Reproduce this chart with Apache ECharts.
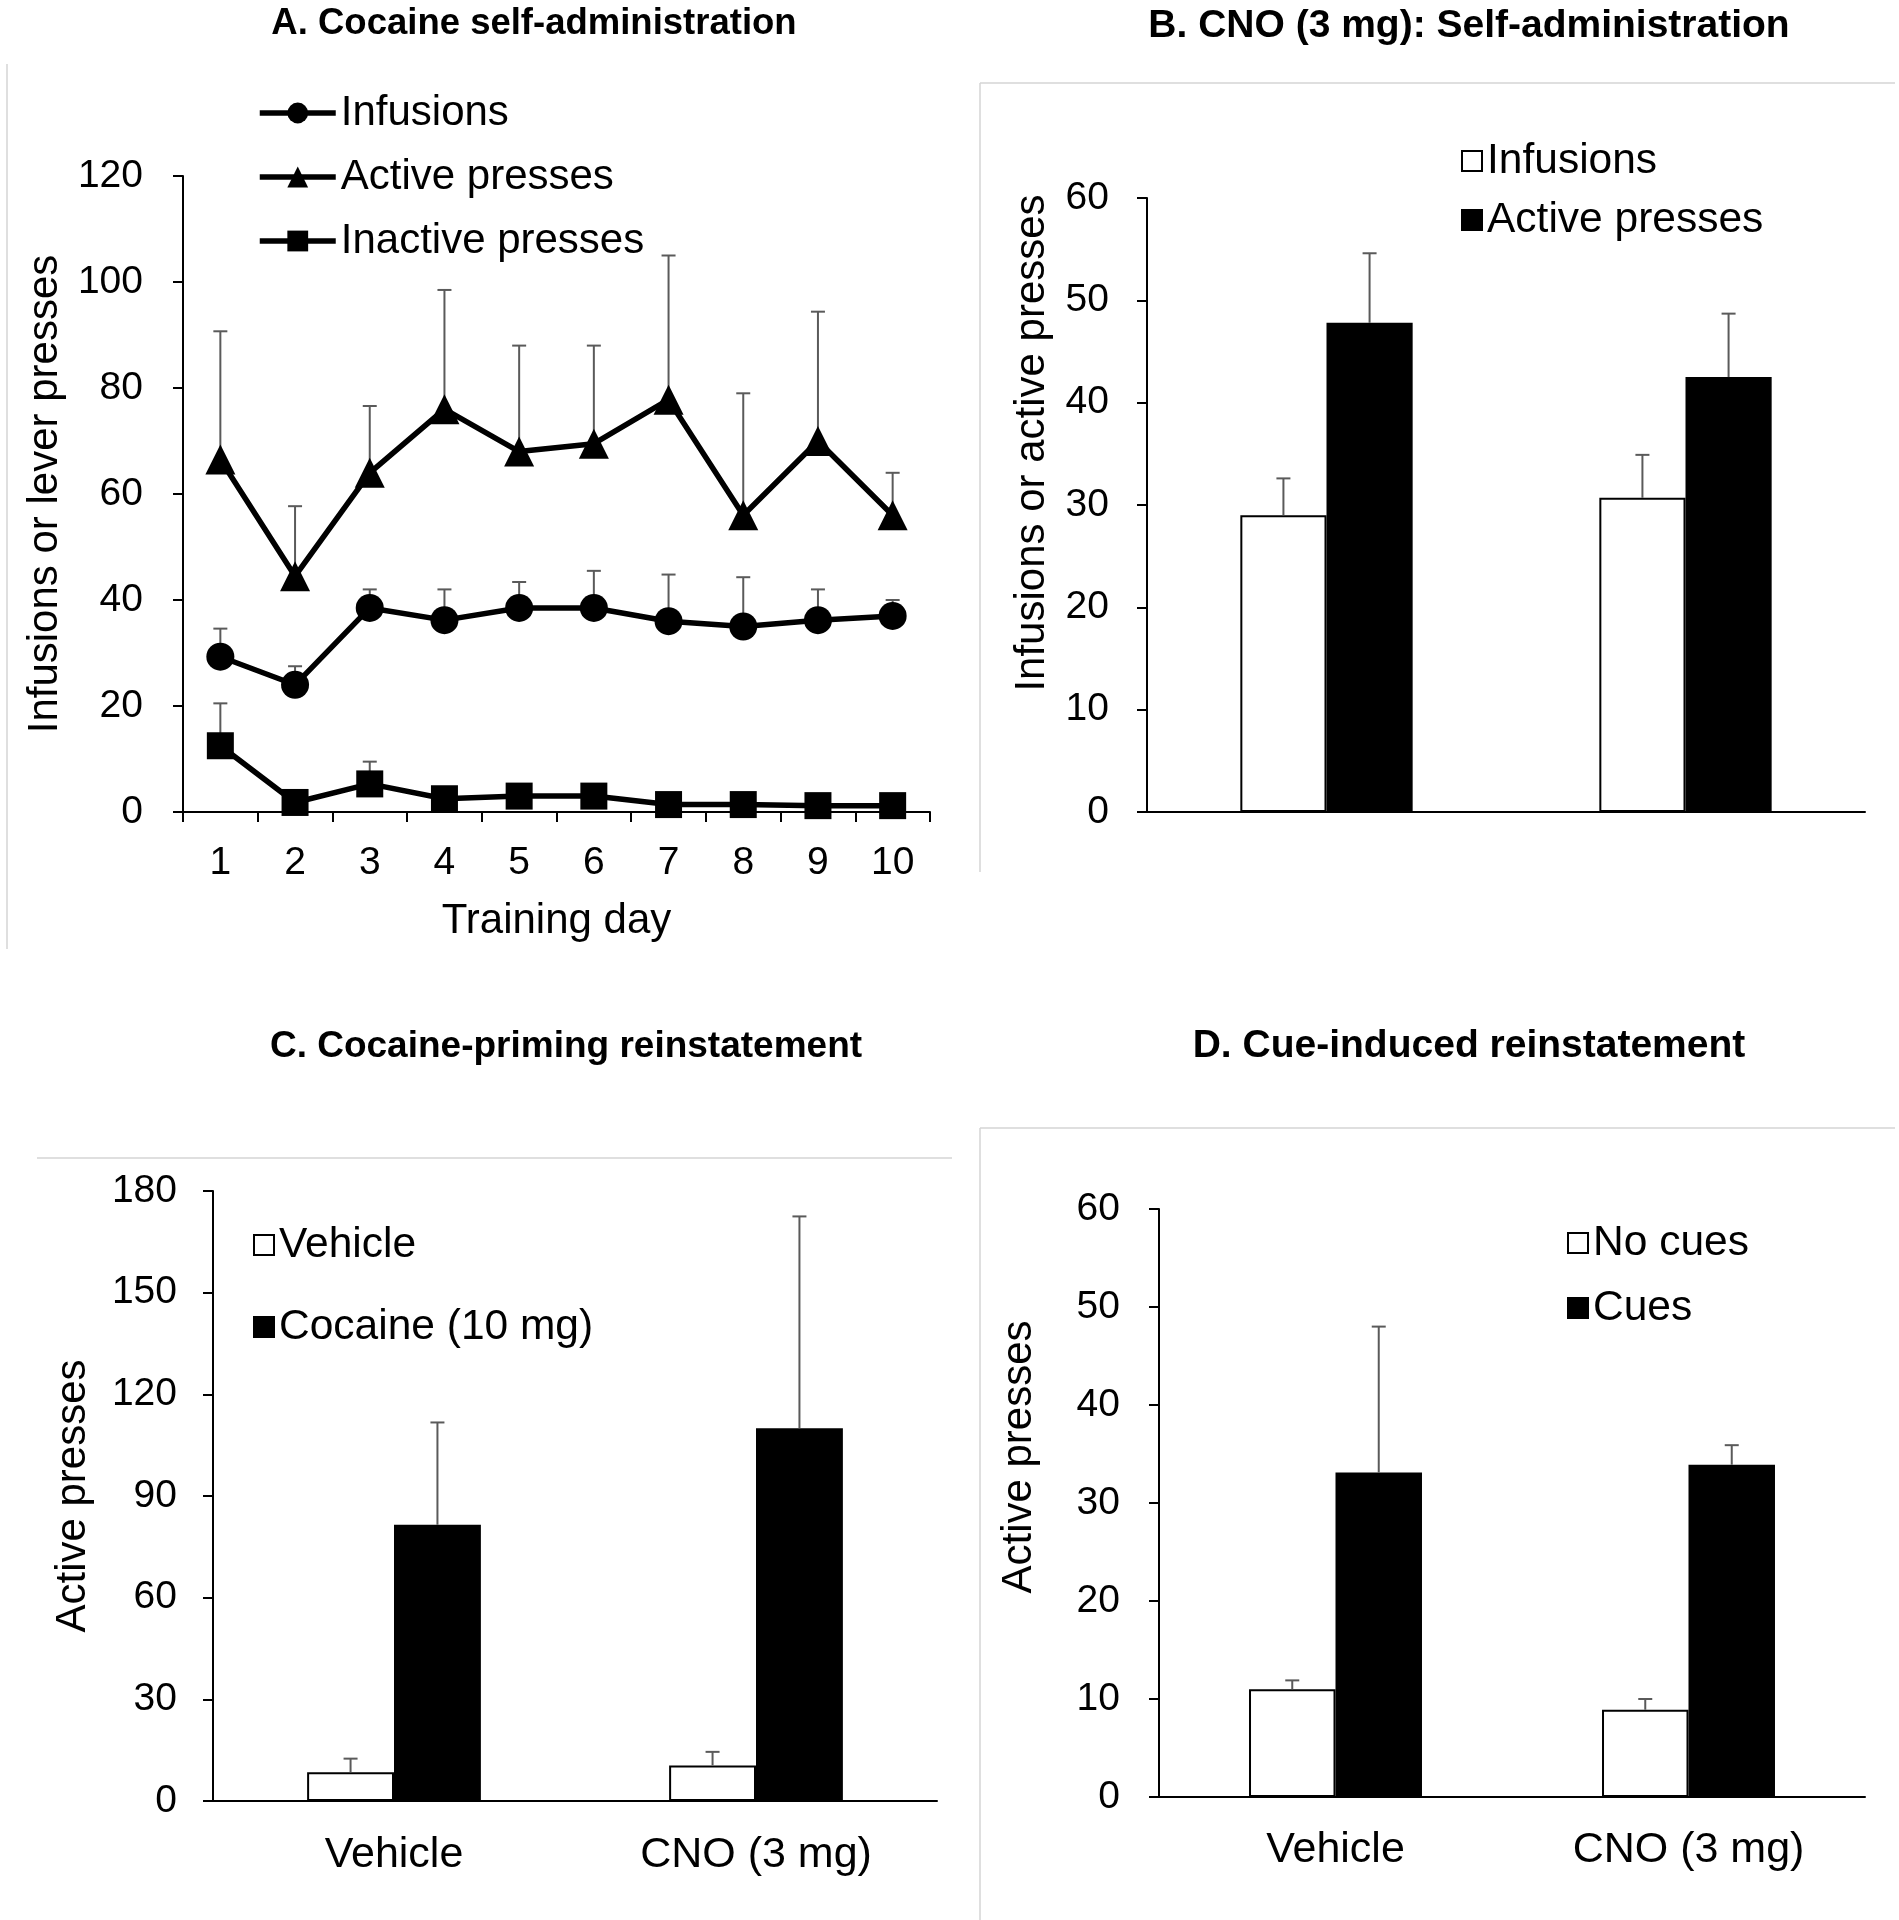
<!DOCTYPE html>
<html>
<head>
<meta charset="utf-8">
<script src="https://cdn.jsdelivr.net/npm/echarts@6/dist/echarts.min.js"></script>
<style>
  html, body { margin: 0; padding: 0; background: #fff; }
  #wrap { position: relative; width: 1899px; height: 1920px; }
  .panel { position: absolute; }
</style>
</head>
<body>
<div id="wrap">
  <div id="pA" class="panel" style="left:0;top:0;width:960px;height:980px"></div>
  <div id="pB" class="panel" style="left:960px;top:0;width:939px;height:980px"></div>
  <div id="pC" class="panel" style="left:0;top:980px;width:960px;height:940px"></div>
  <div id="pD" class="panel" style="left:960px;top:980px;width:939px;height:940px"></div>
</div>
<script>
// A. training days
const days = ["1", "2", "3", "4", "5", "6", "7", "8", "9", "10"];
const infusions = [29.3, 24, 38.5, 36.2, 38.5, 38.5, 36, 35, 36.2, 37];
const infusionsTop = [34.6, 27.5, 42, 42, 43.4, 45.5, 44.8, 44.3, 42, 40];
const activePresses = [66.5, 44.5, 64, 76, 68, 69.5, 77.8, 56, 70, 56];
const activePressesTop = [90.7, 57.7, 76.6, 98.5, 88, 88, 105, 79, 94.4, 64];
const inactivePresses = [12.5, 1.8, 5.3, 2.5, 3, 3, 1.4, 1.4, 1.2, 1.2];
const inactivePressesTop = [20.5, 1.8, 9.5, 2.5, 3, 3, 1.4, 1.4, 1.2, 1.2];

// B. CNO self-administration
const groups = ["Vehicle", "CNO (3 mg)"];
const bInfusions = [29, 30.7];
const bInfusionsTop = [32.6, 34.9];
const bActive = [47.8, 42.5];
const bActiveTop = [54.6, 48.7];

// C. cocaine-priming reinstatement
const cVehicle = [8.5, 10.5];
const cVehicleTop = [12.5, 14.5];
const cCocaine = [81.5, 110];
const cCocaineTop = [111.7, 172.5];

// D. cue-induced reinstatement
const dNoCues = [11, 8.9];
const dNoCuesTop = [11.9, 10];
const dCues = [33.1, 33.9];
const dCuesTop = [48, 35.9];

const FONT = "'Liberation Sans', Arial, sans-serif";
const ERR = "#5a5a5a";
const FRAME = "#d4d4d4";

// upper-only error bar, offset is a fraction of the category band
function errorBars(mean, top, offset, z) {
  return {
    type: "custom",
    name: "err",
    z: z,
    silent: true,
    data: mean.map((v, i) => [i, v, top[i]]),
    renderItem: function (params, api) {
      let i = api.value(0);
      let p0 = api.coord([i, api.value(1)]);
      let p1 = api.coord([i, api.value(2)]);
      let band = api.size([1, 0])[0];
      let x = p0[0] + offset * band;
      if (p0[1] - p1[1] < 1) {
        return null;
      }
      let st = { stroke: ERR, lineWidth: 2 };
      return {
        type: "group",
        children: [
          { type: "line", shape: { x1: x, y1: p0[1], x2: x, y2: p1[1] }, style: st },
          { type: "line", shape: { x1: x - 7, y1: p1[1], x2: x + 7, y2: p1[1] }, style: st }
        ]
      };
    }
  };
}

function frameLines(lines) {
  return lines.map(l => ({
    type: "line",
    silent: true,
    shape: { x1: l[0], y1: l[1], x2: l[2], y2: l[3] },
    style: { stroke: FRAME, lineWidth: 1.5 }
  }));
}

function yAxisOpt(max, interval, name, nameGap, pad, margin) {
  return {
    type: "value",
    min: 0,
    max: max,
    interval: interval,
    name: name,
    nameLocation: "middle",
    nameGap: nameGap,
    nameTextStyle: { fontFamily: FONT, fontSize: 42, color: "#000", padding: pad },
    axisLine: { show: true, lineStyle: { color: "#000", width: 2 } },
    axisTick: { show: true, length: 10, lineStyle: { color: "#000", width: 2 } },
    axisLabel: { fontFamily: FONT, fontSize: 39, color: "#000", margin: margin },
    splitLine: { show: false }
  };
}

function titleOpt(text, cx, top, size) {
  return {
    text: text,
    left: cx,
    top: top,
    textAlign: "center",
    padding: 0,
    textStyle: { fontFamily: FONT, fontSize: size, fontWeight: "bold", color: "#000" }
  };
}

function barLegend(names, left, top, gap) {
  return {
    data: names,
    orient: "vertical",
    left: left,
    top: top,
    padding: 0,
    itemGap: gap,
    itemWidth: 20,
    itemHeight: 20,
    icon: "rect",
    selectedMode: false,
    textStyle: { fontFamily: FONT, fontSize: 42.5, color: "#000", lineHeight: 44 }
  };
}

// panel A
let chartA = echarts.init(document.getElementById("pA"));
let lineStyle = { color: "#000", width: 5.5 };
chartA.setOption({
  animation: false,
  title: titleOpt("A. Cocaine self-administration", 534, 5, 36.5),
  legend: {
    data: ["Infusions", "Active presses", "Inactive presses"],
    orient: "vertical",
    left: 257,
    top: 91,
    padding: 0,
    itemGap: 20,
    itemWidth: 76,
    itemHeight: 26,
    selectedMode: false,
    lineStyle: { width: 5.5 },
    textStyle: { fontFamily: FONT, fontSize: 42, color: "#000", lineHeight: 44 }
  },
  grid: { left: 183, top: 176, width: 747, height: 636 },
  xAxis: {
    type: "category",
    data: days,
    name: "Training day",
    nameLocation: "middle",
    nameGap: 88,
    nameTextStyle: { fontFamily: FONT, fontSize: 42, color: "#000" },
    axisLine: { lineStyle: { color: "#000", width: 2 } },
    axisTick: { show: true, length: 10, lineStyle: { color: "#000", width: 2 } },
    axisLabel: { fontFamily: FONT, fontSize: 39, color: "#000", margin: 32 }
  },
  yAxis: yAxisOpt(120, 20, "Infusions or lever presses", 117, 0, 40),
  graphic: frameLines([[7, 64, 7, 949]]),
  series: [
    errorBars(activePresses, activePressesTop, 0, 1),
    errorBars(infusions, infusionsTop, 0, 1),
    errorBars(inactivePresses, inactivePressesTop, 0, 1),
    {
      name: "Infusions", type: "line", z: 3, data: infusions,
      symbol: "circle", symbolSize: 28, lineStyle: lineStyle,
      itemStyle: { color: "#000" }
    },
    {
      name: "Active presses", type: "line", z: 3, data: activePresses,
      symbol: "triangle", symbolSize: 30, lineStyle: lineStyle,
      itemStyle: { color: "#000" }
    },
    {
      name: "Inactive presses", type: "line", z: 3, data: inactivePresses,
      symbol: "rect", symbolSize: 27, lineStyle: lineStyle,
      itemStyle: { color: "#000" }
    }
  ]
});

// bar panels share one layout
function barPanel(el, o) {
  let chart = echarts.init(document.getElementById(el));
  chart.setOption({
    animation: false,
    title: titleOpt(o.title, o.titleX, o.titleTop, o.titleSize),
    legend: barLegend([o.names[0], o.names[1]], o.legendLeft, o.legendTop, o.legendGap),
    grid: o.grid,
    xAxis: {
      type: "category",
      data: groups,
      axisLine: { lineStyle: { color: "#000", width: 2 } },
      axisTick: { show: false },
      axisLabel: { show: o.showLabels, fontFamily: FONT, fontSize: 43, color: "#000", margin: o.labelMargin }
    },
    yAxis: yAxisOpt(o.max, o.interval, o.yName, o.nameGap, o.namePad, o.yMargin),
    graphic: frameLines(o.frame),
    series: [
      {
        name: o.names[0], type: "bar", data: o.white, barWidth: o.barWidth, barGap: "0%",
        itemStyle: { color: "#fff", borderColor: "#000", borderWidth: 2 }
      },
      {
        name: o.names[1], type: "bar", data: o.black, barWidth: o.barWidth, barGap: "0%",
        itemStyle: { color: "#000", borderColor: "#000", borderWidth: 2 }
      },
      errorBars(o.white, o.whiteTop, -o.off, 5),
      errorBars(o.black, o.blackTop, o.off, 5)
    ]
  });
  return chart;
}

barPanel("pB", {
  title: "B. CNO (3 mg): Self-administration", titleX: 509, titleTop: 7, titleSize: 39,
  names: ["Infusions", "Active presses"], legendLeft: 501, legendTop: 139, legendGap: 15,
  grid: { left: 187, top: 198, width: 718, height: 614 },
  showLabels: false, labelMargin: 33,
  max: 60, interval: 10, yName: "Infusions or active presses", nameGap: 94, namePad: [0, 0, 0, 124], yMargin: 38,
  frame: [[20, 83, 935, 83], [20, 83, 20, 872]],
  white: bInfusions, whiteTop: bInfusionsTop, black: bActive, blackTop: bActiveTop,
  barWidth: "24%", off: 0.12
});

barPanel("pC", {
  title: "C. Cocaine-priming reinstatement", titleX: 566, titleTop: 48, titleSize: 37,
  names: ["Vehicle", "Cocaine (10 mg)"], legendLeft: 253, legendTop: 243, legendGap: 38,
  grid: { left: 213, top: 211, width: 724, height: 610 },
  showLabels: true, labelMargin: 33,
  max: 180, interval: 30, yName: "Active presses", nameGap: 119, namePad: 0, yMargin: 36,
  frame: [[37, 178, 952, 178]],
  white: cVehicle, whiteTop: cVehicleTop, black: cCocaine, blackTop: cCocaineTop,
  barWidth: "24%", off: 0.12
});

barPanel("pD", {
  title: "D. Cue-induced reinstatement", titleX: 509, titleTop: 47, titleSize: 39,
  names: ["No cues", "Cues"], legendLeft: 607, legendTop: 241, legendGap: 21,
  grid: { left: 199, top: 229, width: 706, height: 588 },
  showLabels: true, labelMargin: 32,
  max: 60, interval: 10, yName: "Active presses", nameGap: 119, namePad: [0, 0, 0, 92], yMargin: 39,
  frame: [[20, 148, 935, 148], [20, 148, 20, 940]],
  white: dNoCues, whiteTop: dNoCuesTop, black: dCues, blackTop: dCuesTop,
  barWidth: "24.5%", off: 0.1225
});
</script>
</body>
</html>
